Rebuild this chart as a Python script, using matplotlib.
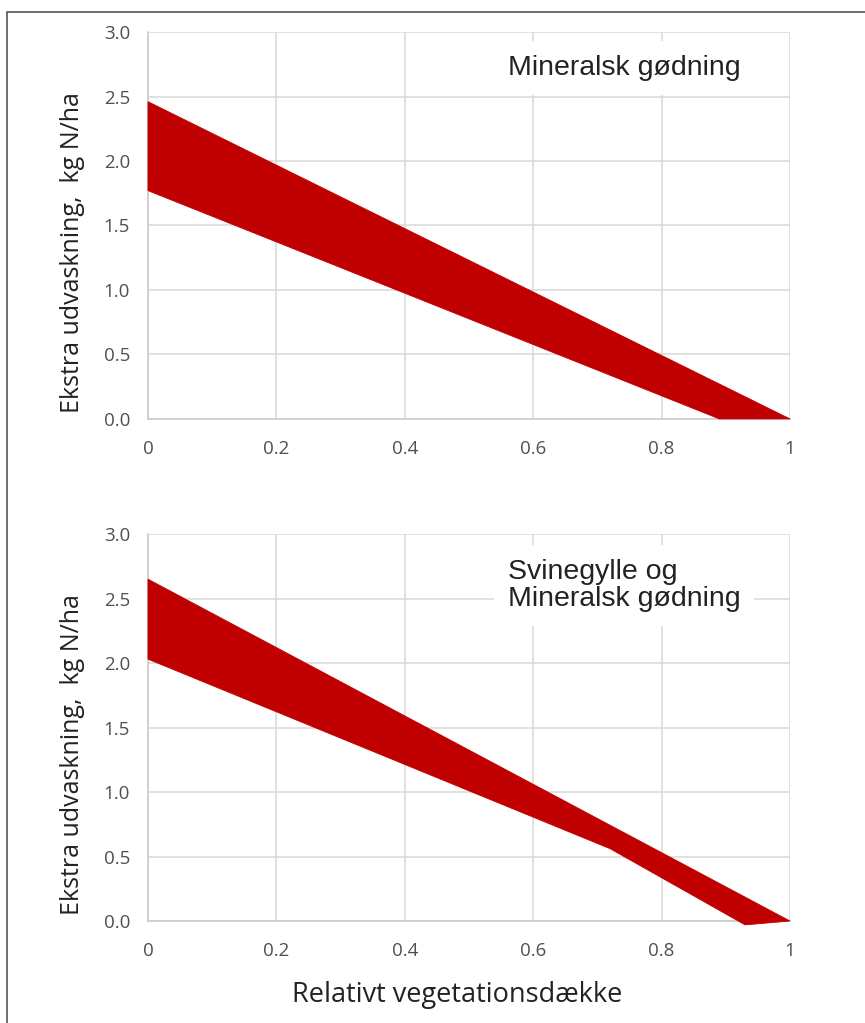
import matplotlib.pyplot as plt
from matplotlib.patches import Rectangle

# band edges (x = relative cover, y = kg N/ha)
top_upper_x = [0, 1]
top_upper_y = [2.46, 0]
top_lower_x = [0, 0.89, 1]
top_lower_y = [1.77, 0, 0]

bot_upper_x = [0, 1]
bot_upper_y = [2.65, 0]
bot_lower_x = [0, 0.72, 0.93, 1]
bot_lower_y = [2.03, 0.56, -0.03, 0]

x_ticks = [0, 0.2, 0.4, 0.6, 0.8, 1]
x_labels = ["0", "0.2", "0.4", "0.6", "0.8", "1"]
y_ticks = [0, 0.5, 1.0, 1.5, 2.0, 2.5, 3.0]

titles = ["Mineralsk gødning", "Svinegylle og\nMineralsk gødning"]

RED = "#c00000"
GRID = "#d9d9d9"
TICK_FONT = "Open Sans"


def band(ax, ux, uy, lx, ly):
    xs = list(ux) + list(lx[::-1])
    ys = list(uy) + list(ly[::-1])
    ax.fill(xs, ys, color=RED, lw=0.6, zorder=3, clip_on=False)


def style(ax, title, ty):
    ax.set_xlim(0, 1)
    ax.set_ylim(0, 3)
    ax.set_xticks(x_ticks)
    ax.set_xticklabels(x_labels)
    ax.set_yticks(y_ticks)
    ax.set_yticklabels([f"{v:.1f}" for v in y_ticks])
    ax.grid(True, color=GRID, lw=1.1, zorder=0)
    ax.set_axisbelow(True)
    for s in ["top", "right"]:
        ax.spines[s].set_visible(False)
    for s in ["left", "bottom"]:
        ax.spines[s].set_color("#c8c8c8")
        ax.spines[s].set_linewidth(1.1)
    ax.tick_params(length=0, labelsize=13.5, labelcolor="#505050", pad=13)
    ax.tick_params(axis="x", pad=15)
    for lab in ax.get_xticklabels() + ax.get_yticklabels():
        lab.set_family(TICK_FONT)
    ax.set_ylabel("Ekstra udvaskning,  kg N/ha", fontsize=18, family="Open Sans",
                  color="#222222")
    ax.yaxis.set_label_coords(-0.098, 0.43)
    ax.text(0.56, ty, title, fontsize=20.5, family="Liberation Sans", color="#222222",
            ha="left", va="center", linespacing=1.05, zorder=4,
            bbox=dict(facecolor="white", edgecolor="none", pad=10))


fig = plt.figure(figsize=(8.65, 10.23), dpi=100)
ax1 = fig.add_axes([0.1711, 0.5905, 0.7422, 0.3782])
ax2 = fig.add_axes([0.1711, 0.0997, 0.7422, 0.3783])

band(ax1, top_upper_x, top_upper_y, top_lower_x, top_lower_y)
style(ax1, titles[0], 2.72)
band(ax2, bot_upper_x, bot_upper_y, bot_lower_x, bot_lower_y)
style(ax2, titles[1], 2.6)

ax2.set_xlabel("Relativt vegetationsdække", fontsize=19.5, family="Open Sans",
               color="#222222")
ax2.xaxis.set_label_coords(0.482, -0.155)

# frame round the whole figure (left and top edges only visible)
fig.patches.append(Rectangle((7 / 865, -0.1), 1.2, 1.1 - 12 / 1023,
                             transform=fig.transFigure, fill=False,
                             edgecolor="#555555", lw=1.2))

fig.savefig("out.png", dpi=100)
